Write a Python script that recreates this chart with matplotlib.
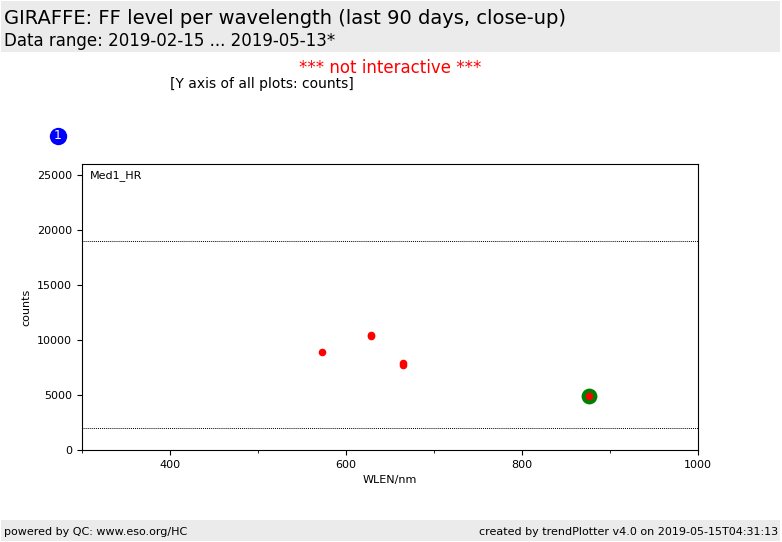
import matplotlib
matplotlib.use("Agg")
import matplotlib.pyplot as plt
from matplotlib.patches import Rectangle
from matplotlib.lines import Line2D
from matplotlib.ticker import MultipleLocator

wlen = [573, 628, 628, 665, 665, 876]
counts = [8900, 10420, 10330, 7900, 7740, 4900]
highlight_wlen = [876]
highlight_counts = [4900]
ref_lines = [19000, 2000]

fig = plt.figure(figsize=(7.82, 5.42), dpi=100)
W, H = 782, 542

def fx(px): return px / W
def fy(py): return 1 - py / H

# header / footer bands
fig.patches.append(Rectangle((fx(1), fy(52)), fx(779), 51 / H, transform=fig.transFigure,
                             facecolor="#ebebeb", edgecolor="none", zorder=0))
fig.patches.append(Rectangle((fx(1), fy(541)), fx(779), 21 / H, transform=fig.transFigure,
                             facecolor="#ebebeb", edgecolor="none", zorder=0))

fig.text(fx(4), fy(18), "GIRAFFE: FF level per wavelength (last 90 days, close-up)",
         fontsize=14, va="center", ha="left")
fig.text(fx(4), fy(41), "Data range: 2019-02-15 ... 2019-05-13*",
         fontsize=12, va="center", ha="left")
fig.text(fx(390), fy(68), "*** not interactive ***", fontsize=12, color="red",
         va="center", ha="center")
fig.text(fx(170), fy(84), "[Y axis of all plots: counts]", fontsize=10,
         va="center", ha="left")
fig.text(fx(4), fy(532), "powered by QC: www.eso.org/HC", fontsize=8, va="center", ha="left")
fig.text(fx(778), fy(532), "created by trendPlotter v4.0 on 2019-05-15T04:31:13",
         fontsize=8, va="center", ha="right")

# blue number badge
fig.add_artist(Line2D([fx(58)], [fy(136)], transform=fig.transFigure, marker="o",
                      markersize=12.5, color="blue", markeredgewidth=0, linestyle="none"))
fig.text(fx(58), fy(136), "1", color="white", fontsize=9, ha="center", va="center")

ax = fig.add_axes([fx(82), fy(450), (698 - 82) / W, (450 - 164) / H])
ax.set_xlim(300, 1000)
ax.set_ylim(0, 26000)
ax.xaxis.set_major_locator(MultipleLocator(200))
ax.xaxis.set_minor_locator(MultipleLocator(100))
ax.yaxis.set_major_locator(MultipleLocator(5000))
ax.tick_params(labelsize=8)
ax.tick_params(which="minor", length=2)
for v in ref_lines:
    ax.axhline(v, color="black", linestyle=(0, (1, 1)), linewidth=0.7)
ax.scatter(highlight_wlen, highlight_counts, s=130, color="green", zorder=2, linewidths=0)
ax.scatter(wlen, counts, s=30, color="red", zorder=3, linewidths=0)
ax.text(0.012, 0.98, "Med1_HR", transform=ax.transAxes, fontsize=8, va="top", ha="left")
ax.set_xlabel("WLEN/nm", fontsize=8)
ax.set_ylabel("counts", fontsize=8)

fig.savefig("out.png", dpi=100)
